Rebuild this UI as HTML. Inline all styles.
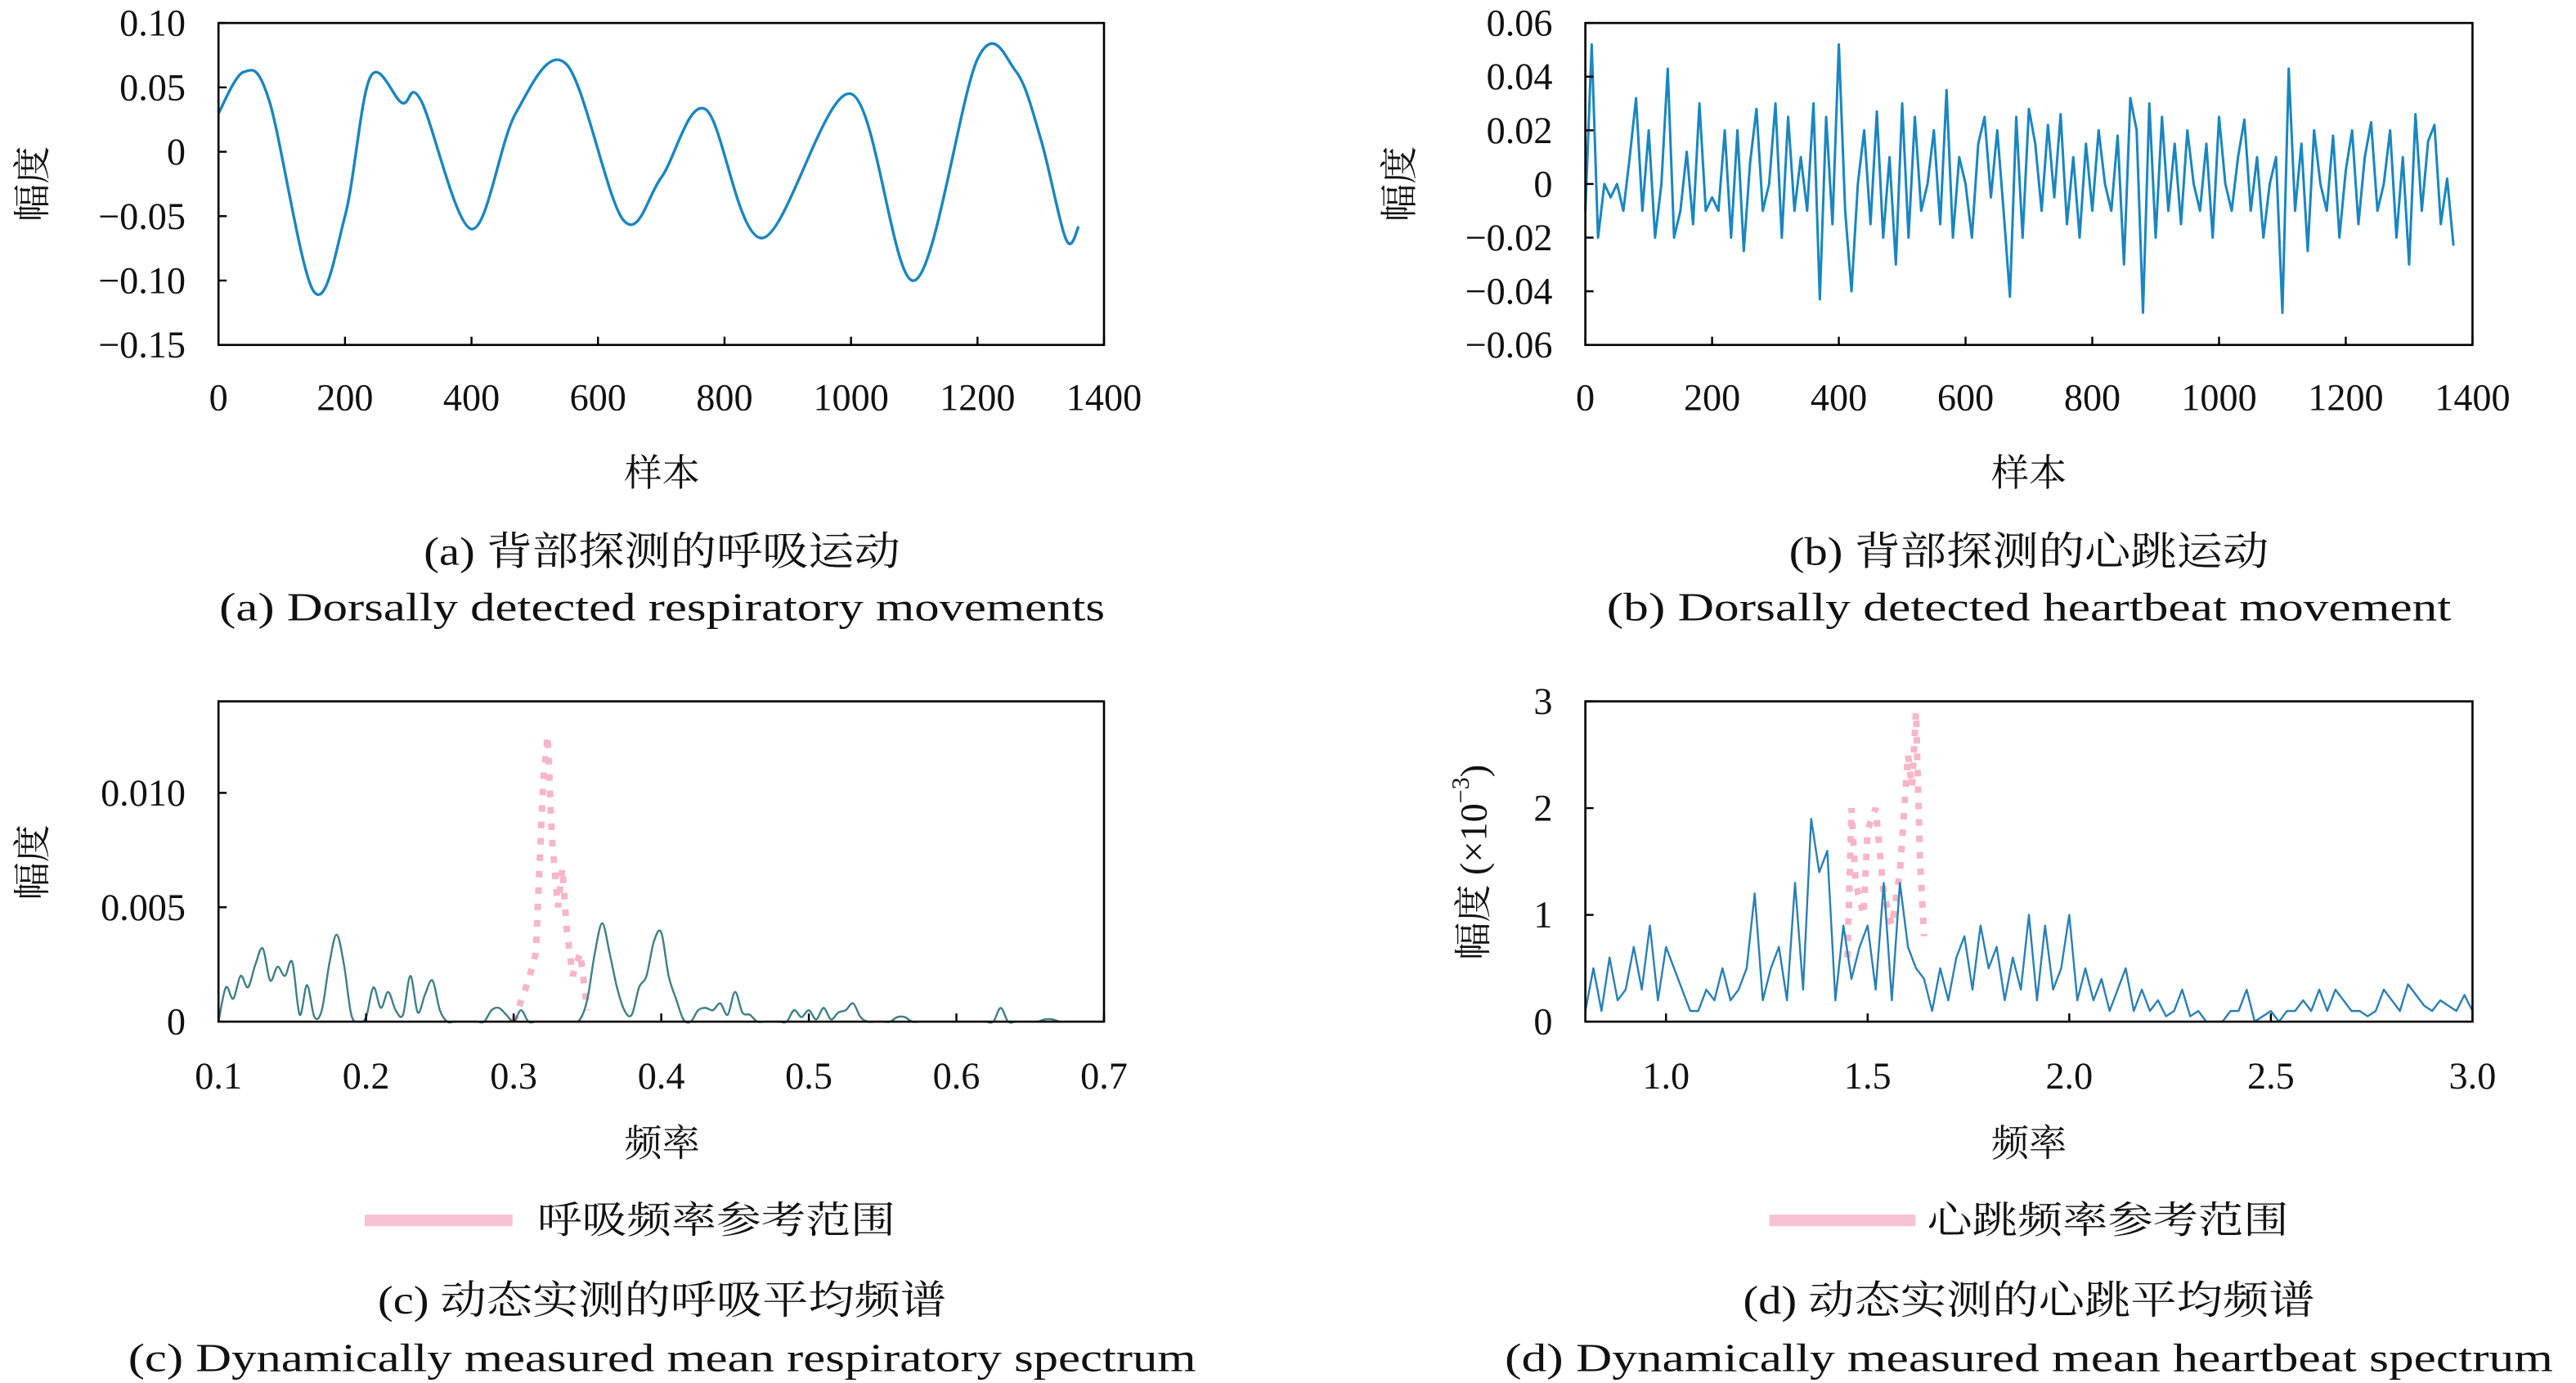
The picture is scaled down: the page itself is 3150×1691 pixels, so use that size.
<!DOCTYPE html>
<html><head><meta charset="utf-8">
<style>
html,body{margin:0;padding:0;background:#fff}
svg{display:block}
text{font-family:"Liberation Serif","Noto Serif CJK SC",serif;fill:#111}
</style></head>
<body>
<svg id="fig" width="3150" height="1691" viewBox="0 0 1568 842" preserveAspectRatio="none" xmlns="http://www.w3.org/2000/svg">
<rect width="1568" height="842" fill="#fff"/>
<g id="root"></g>
</svg>
<script>
// ---------- data ----------
const respSamples=[0,40,80,150,200,240,290,320,400,470,550,640,700,770,860,1000,1100,1200,1260,1300,1340,1360];
const respValues=[0.03,0.062,0.04,-0.108,-0.05,0.058,0.038,0.04,-0.06,0.03,0.068,-0.053,-0.02,0.033,-0.067,0.045,-0.1,0.072,0.063,0.01,-0.068,-0.058];
const heartStep=10;
const heartValues=[-0.01,0.052,-0.02,0.0,-0.005,0.0,-0.01,0.01,0.032,-0.01,0.02,-0.02,0.0,0.043,-0.02,-0.01,0.012,-0.015,0.03,-0.01,-0.005,-0.01,0.02,-0.02,0.02,-0.025,0.008,0.028,-0.01,0.0,0.03,-0.02,0.025,-0.01,0.01,-0.01,0.03,-0.043,0.025,-0.015,0.052,-0.01,-0.04,0.0,0.02,-0.015,0.027,-0.02,0.01,-0.03,0.03,-0.02,0.025,-0.01,0.0,0.02,-0.015,0.035,-0.02,0.01,0.0,-0.02,0.015,0.025,-0.005,0.02,-0.01,-0.042,0.025,-0.02,0.028,0.015,-0.01,0.022,-0.005,0.026,-0.015,0.01,-0.02,0.015,-0.01,0.02,0.0,-0.01,0.018,-0.03,0.032,0.02,-0.048,0.03,-0.02,0.025,-0.01,0.015,-0.015,0.02,0.0,-0.01,0.015,-0.02,0.025,0.0,-0.01,0.01,0.024,-0.01,0.01,-0.02,0.0,0.01,-0.048,0.043,-0.01,0.015,-0.025,0.02,0.0,-0.01,0.018,-0.02,0.005,0.02,-0.015,0.01,0.023,-0.01,0.0,0.02,-0.02,0.01,-0.03,0.026,-0.01,0.016,0.022,-0.015,0.002,-0.023];
const respSpecStart=0.1, respSpecStep=0.005;
const respSpec=[0,1.5,1.0,2.0,1.5,2.5,3.2,1.8,2.4,2.0,2.6,0.3,1.6,0.2,0.5,2.5,3.8,2.5,0.3,0,0.2,1.5,0.6,1.3,0.5,0.3,2.0,0.4,1.2,1.8,0.5,0,0,0,0,0,0,0.5,0.6,0.3,0,0.5,0,0,0,0,0,0,0,0.1,1.0,3.0,4.3,3.0,1.5,0.5,0.3,1.5,2.0,3.5,3.9,2.0,1.0,0.1,0,0.5,0.6,0.5,0.8,0.3,1.3,0.4,0.3,0,0,0,0,0,0.5,0.2,0.5,0.1,0.6,0.1,0.4,0.5,0.8,0.2,0,0,0,0,0.2,0.2,0,0,0,0,0,0,0,0,0,0,0,0,0.6,0,0,0,0,0,0.1,0.1,0,0,0,0,0,0,0];
const respRefF=[0.30,0.31,0.315,0.32,0.323,0.326,0.33,0.333,0.336,0.34,0.345,0.35];
const respRefA=[0,1.8,3,10.5,12.5,8,5,6.7,4,2,3,0.5];
const heartSpecStart=0.8, heartSpecStep=0.02;
const heartSpec=[0.1,0.5,0.1,0.6,0.2,0.3,0.7,0.3,0.9,0.2,0.7,0.5,0.3,0.1,0.1,0.3,0.2,0.5,0.2,0.3,0.5,1.2,0.2,0.5,0.7,0.2,1.3,0.3,1.9,1.4,1.6,0.2,0.9,0.4,0.7,0.9,0.3,1.3,0.2,1.3,0.7,0.5,0.4,0.1,0.5,0.2,0.6,0.8,0.3,0.9,0.5,0.7,0.2,0.6,0.3,1.0,0.2,0.9,0.3,0.5,1.0,0.2,0.5,0.2,0.4,0.1,0.3,0.5,0.1,0.3,0.1,0.2,0.05,0.1,0.3,0.05,0.1,0,0,0,0.1,0.1,0.3,0,0.05,0.1,0,0.1,0.1,0.2,0.1,0.3,0.1,0.3,0.2,0.1,0.1,0.05,0.1,0.3,0.2,0.1,0.35,0.25,0.15,0.1,0.2,0.15,0.1,0.25,0.1];
const heartRefF=[1.45,1.46,1.47,1.49,1.50,1.52,1.54,1.56,1.58,1.60,1.61,1.62,1.63,1.64];
const heartRefA=[0.6,2.0,1.3,1.0,1.8,2.0,1.2,0.9,1.4,2.5,2.2,2.9,1.5,0.8];
const ticksA_y=[0.10,0.05,0,-0.05,-0.10,-0.15], ticksA_yl=["0.10","0.05","0","−0.05","−0.10","−0.15"];
const ticksSamples=[0,200,400,600,800,1000,1200,1400];
const ticksB_y=[0.06,0.04,0.02,0,-0.02,-0.04,-0.06], ticksB_yl=["0.06","0.04","0.02","0","−0.02","−0.04","−0.06"];
const ticksC_x=[0.1,0.2,0.3,0.4,0.5,0.6,0.7], ticksC_y=[0,0.005,0.010], ticksC_yl=["0","0.005","0.010"];
const ticksD_x=[1.0,1.5,2.0,2.5,3.0], ticksD_xl=["1.0","1.5","2.0","2.5","3.0"], ticksD_y=[0,1,2,3];

// ---------- helpers ----------
const NS="http://www.w3.org/2000/svg";
const root=document.getElementById('root');
function mk(tag,attrs,parent){const e=document.createElementNS(NS,tag);for(const k in attrs)e.setAttribute(k,attrs[k]);(parent||root).appendChild(e);return e;}
function txt(s,x,y,anchor,size,name,parent,extra){const t=mk('text',Object.assign({x:x,y:y,'text-anchor':anchor,'font-size':size,'dominant-baseline':'central'},extra||{}),parent);t.textContent=s;


return t;}
function cap(s,x,y,w,name,g){return txt(s,x,y,'middle',24,name,g,{textLength:w,lengthAdjust:'spacingAndGlyphs'});}
function scale(d0,d1,r0,r1){return v=>r0+(v-d0)/(d1-d0)*(r1-r0);}
function smooth(pts){let d='M'+pts[0][0]+','+pts[0][1];for(let i=0;i<pts.length-1;i++){const p0=pts[i-1]||pts[i],p1=pts[i],p2=pts[i+1],p3=pts[i+2]||p2;
const c1x=p1[0]+(p2[0]-p0[0])/6,c1y=p1[1]+(p2[1]-p0[1])/6,c2x=p2[0]-(p3[0]-p1[0])/6,c2y=p2[1]-(p3[1]-p1[1])/6;d+=' C'+c1x+','+c1y+' '+c2x+','+c2y+' '+p2[0]+','+p2[1];}return d;}
function frame(g,x0,y0,x1,y1,name){const r=mk('rect',{x:x0,y:y0,width:x1-x0,height:y1-y0,fill:'none',stroke:'#000','stroke-width':1.3},g);

}
function xtick(g,x,y1){mk('line',{x1:x,x2:x,y1:y1,y2:y1-5,stroke:'#000','stroke-width':1.2},g);}
function ytick(g,x0,y){mk('line',{x1:x0,x2:x0+5,y1:y,y2:y,stroke:'#000','stroke-width':1.2},g);}
const FS=23;

// ---------- panel a ----------
{const g=mk('g',{});
const X=scale(0,1400,133,672),Y=scale(-0.15,0.10,210,14);
const pts=respSamples.map((s,i)=>[X(s),Y(respValues[i])]);
const p=mk('path',{d:smooth(pts),fill:'none',stroke:'#1a86c0','stroke-width':1.7},g);

frame(g,133,14,672,210,'plot-area-a');
ticksA_y.forEach((v,i)=>{ytick(g,133,Y(v));txt(ticksA_yl[i],113,Y(v),'end',FS,'y-tick-label',g);});
ticksSamples.forEach(v=>{xtick(g,X(v),210);txt(String(v),X(v),242,'middle',FS,'x-tick-label',g);});
txt('幅度',20,112,'middle',FS,'y-axis-title',g,{transform:'rotate(-90 20 112)'});
txt('样本',403,288,'middle',FS,'x-axis-title',g);
cap('(a) 背部探测的呼吸运动',403,336,290,'caption-cn',g);
cap('(a) Dorsally detected respiratory movements',403,370,539,'caption-en',g);}

// ---------- panel b ----------
{const g=mk('g',{});
const X=scale(0,1400,965,1505),Y=scale(-0.06,0.06,210,14);
const d=heartValues.map((v,i)=>(i?'L':'M')+X(i*heartStep)+','+Y(v)).join(' ');
const p=mk('path',{d:d,fill:'none',stroke:'#1a86c0','stroke-width':1.5,'stroke-linejoin':'round'},g);

frame(g,965,14,1505,210,'plot-area-b');
ticksB_y.forEach((v,i)=>{ytick(g,965,Y(v));txt(ticksB_yl[i],945,Y(v),'end',FS,'y-tick-label',g);});
ticksSamples.forEach(v=>{xtick(g,X(v),210);txt(String(v),X(v),242,'middle',FS,'x-tick-label',g);});
txt('幅度',852,112,'middle',FS,'y-axis-title',g,{transform:'rotate(-90 852 112)'});
txt('样本',1235,288,'middle',FS,'x-axis-title',g);
cap('(b) 背部探测的心跳运动',1235,336,292,'caption-cn',g);
cap('(b) Dorsally detected heartbeat movement',1235,370,514,'caption-en',g);}

// ---------- panel c ----------
{const g=mk('g',{});
const X=scale(0.1,0.7,133,672),Y=scale(0,0.014,622,427);
const rp=respRefF.map((f,i)=>[X(f),Y(respRefA[i]/1000)]);
const r=mk('path',{d:'M'+rp.map(p=>p.join(',')).join(' L'),fill:'none',stroke:'#f7b6c8','stroke-width':4,'stroke-dasharray':'4 6'},g);

const pts=respSpec.map((v,i)=>[X(respSpecStart+i*respSpecStep),Y(v/1000)]);
const p=mk('path',{d:smooth(pts),fill:'none',stroke:'#3f7f86','stroke-width':1.2},g);

frame(g,133,427,672,622,'plot-area-c');
ticksC_y.forEach((v,i)=>{ytick(g,133,Y(v));txt(ticksC_yl[i],113,Y(v),'end',FS,'y-tick-label',g);});
ticksC_x.forEach(v=>{xtick(g,X(v),622);txt(v.toFixed(1),X(v),655,'middle',FS,'x-tick-label',g);});
txt('幅度',20,525,'middle',FS,'y-axis-title',g,{transform:'rotate(-90 20 525)'});
txt('频率',403,696,'middle',FS,'x-axis-title',g);
const l=mk('line',{x1:222,x2:312,y1:743,y2:743,stroke:'#f7c3d2','stroke-width':7},g);

txt('呼吸频率参考范围',327,743,'start',FS,'legend-label',g,{textLength:218,lengthAdjust:'spacingAndGlyphs'});
cap('(c) 动态实测的呼吸平均频谱',403,792,346,'caption-cn',g);
cap('(c) Dynamically measured mean respiratory spectrum',403,827,650,'caption-en',g);}

// ---------- panel d ----------
{const g=mk('g',{});
const X=scale(0.8,3.0,965,1505),Y=scale(0,3,622,427);
const rp=heartRefF.map((f,i)=>[X(f),Y(heartRefA[i])]);
const r=mk('path',{d:'M'+rp.map(p=>p.join(',')).join(' L'),fill:'none',stroke:'#f7b6c8','stroke-width':4,'stroke-dasharray':'4 6'},g);

const d=heartSpec.map((v,i)=>(i?'L':'M')+X(heartSpecStart+i*heartSpecStep)+','+Y(v)).join(' ');
const p=mk('path',{d:d,fill:'none',stroke:'#2a7fb5','stroke-width':1.2,'stroke-linejoin':'round'},g);

frame(g,965,427,1505,622,'plot-area-d');
ticksD_y.forEach(v=>{ytick(g,965,Y(v));txt(String(v),945,Y(v),'end',FS,'y-tick-label',g);});
ticksD_x.forEach((v,i)=>{xtick(g,X(v),622);txt(ticksD_xl[i],X(v),655,'middle',FS,'x-tick-label',g);});
const t=txt('幅度 (×10',897,525,'middle',FS,'y-axis-title',g,{transform:'rotate(-90 897 525)'});
const sup=document.createElementNS(NS,'tspan');sup.setAttribute('font-size',15);sup.setAttribute('dy',-8);sup.textContent='−3';t.appendChild(sup);
const cl=document.createElementNS(NS,'tspan');cl.setAttribute('dy',8);cl.textContent=')';t.appendChild(cl);
txt('频率',1235,696,'middle',FS,'x-axis-title',g);
const l=mk('line',{x1:1077,x2:1166,y1:743,y2:743,stroke:'#f7c3d2','stroke-width':7},g);

txt('心跳频率参考范围',1173,743,'start',FS,'legend-label',g,{textLength:220,lengthAdjust:'spacingAndGlyphs'});
cap('(d) 动态实测的心跳平均频谱',1235,792,348,'caption-cn',g);
cap('(d) Dynamically measured mean heartbeat spectrum',1235,827,638,'caption-en',g);}
</script>
</body></html>
